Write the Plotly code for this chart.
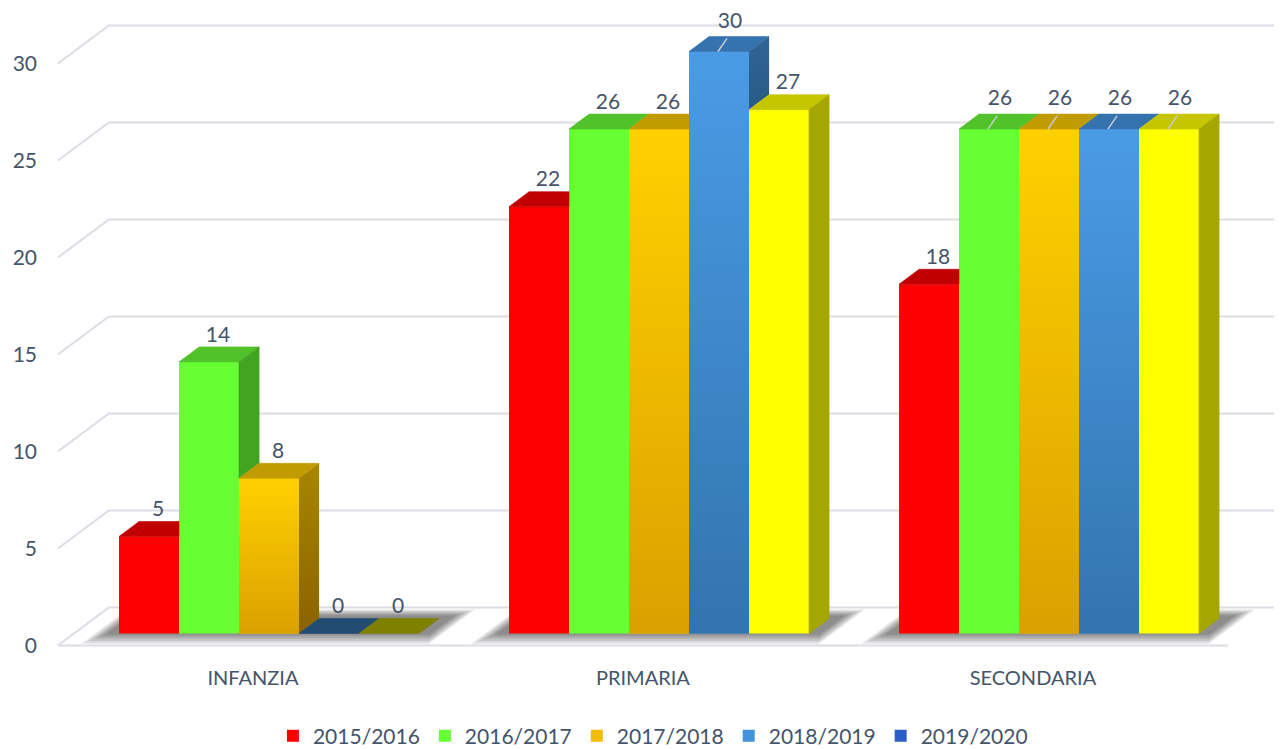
import plotly.graph_objects as go

# ---------------- data ----------------
CATEGORIES = ["INFANZIA", "PRIMARIA", "SECONDARIA"]
SERIES = ["2015/2016", "2016/2017", "2017/2018", "2018/2019", "2019/2020"]
V_2015_2016 = [5, 22, 18]
V_2016_2017 = [14, 26, 26]
V_2017_2018 = [8, 26, 26]
V_2018_2019 = [0, 30, 26]
V_2019_2020 = [0, 27, 26]
Y_TICKS = [0, 5, 10, 15, 20, 25, 30]
VALUES = [V_2015_2016, V_2016_2017, V_2017_2018, V_2018_2019, V_2019_2020]

# ---------------- style ----------------
STYLE = [
    dict(front="#FF0000", top="#C00000", side="#B00000", flat="#A00000", legend="#FF0000"),
    dict(front="#66FF33", top="#52C22A", side="#43A322", flat="#3D8F1F", legend="#66FF33"),
    dict(front=("#FFD000", "#DBA000"), top="#C19C00", side=("#A88600", "#8A6200"),
         flat="#7F6000", legend="#F2BC00"),
    dict(front=("#4A9BE6", "#3374AE"), top="#3673AE", side=("#2F6596", "#2A5A86"),
         flat="#234C72", legend="#4392DC"),
    dict(front="#FFFF00", top="#C6C600", side="#A6A600", flat="#808000", legend="#2B5EC6"),
]
TEXT_COLOR = "#44546A"
GRID_COLOR = "#DADDE4"
FONT = "Lato"
LEADER = {(1, 3), (2, 1), (2, 2), (2, 3), (2, 4)}

# ---------------- oblique projection helpers ----------------
PXX = 390.0    # pixels per category unit
PXY = 19.4     # pixels per value unit
SLANT = 1.34   # horizontal shift per vertical pixel of depth
D_FRONT, D_BAR, D_BACK = -12.0, 15.0, 26.0
N = len(SERIES)
BAR_W = 60.0 / PXX


def pt(x, v, d=0.0):
    return (x + SLANT * d / PXX, v + d / PXY)


def px(n):
    return n / PXX


def path(points):
    return "M " + " L ".join(f"{x:.5f},{y:.5f}" for x, y in points) + " Z"


fig = go.Figure()
shapes = []

# walls / floor lines
for v in Y_TICKS:
    a = pt(-0.5, v, D_FRONT)
    b = pt(-0.5, v, D_BACK)
    c = pt(2.5, v, D_BACK)
    shapes.append(dict(type="path", path=f"M {a[0]},{a[1]} L {b[0]},{b[1]} L {c[0]},{c[1]}",
                       xref="x", yref="y", layer="below",
                       line=dict(color=GRID_COLOR, width=2)))
a = pt(-0.5, 0, D_FRONT)
b = pt(2.5, 0, D_FRONT)
shapes.append(dict(type="line", x0=a[0], y0=a[1], x1=b[0], y1=b[1], xref="x", yref="y",
                   layer="below", line=dict(color=GRID_COLOR, width=2)))

# soft shadows on the floor under each group
for i in range(len(CATEGORIES)):
    x0g = i - N / 2 * BAR_W
    x1g = i + N / 2 * BAR_W
    for e in [12, 10, 8, 6, 4, 2, 0]:
        poly = [pt(x0g - px(12 + e), 0, -1 - e * 0.8), pt(x1g + px(12 + e), 0, -1 - e * 0.8),
                pt(x1g + px(12 + e), 0, 18 + e * 0.5), pt(x0g - px(12 + e), 0, 18 + e * 0.5)]
        shapes.append(dict(type="path", path=path(poly), xref="x", yref="y", layer="below",
                           fillcolor="rgba(0,0,0,0.08)", line=dict(width=0)))

# front faces as real bars
for k, name in enumerate(SERIES):
    st = STYLE[k]
    col = st["front"] if isinstance(st["front"], str) else st["legend"]
    fig.add_trace(go.Bar(
        x=list(range(len(CATEGORIES))), y=VALUES[k], name=name,
        width=BAR_W, offset=(k - N / 2) * BAR_W,
        marker=dict(color=col, line=dict(width=0)),
        showlegend=(k < N - 1),
        hovertemplate=name + ": %{y}<extra></extra>",
    ))


def face(points, fill, vlo=None, vhi=None):
    xs = [p[0] for p in points] + [points[0][0]]
    ys = [p[1] for p in points] + [points[0][1]]
    if isinstance(fill, str):
        fig.add_trace(go.Scatter(x=xs, y=ys, mode="lines", fill="toself", fillcolor=fill,
                                 line=dict(color=fill, width=0.6), hoverinfo="skip",
                                 showlegend=False))
    else:
        fig.add_trace(go.Scatter(x=xs, y=ys, mode="lines", fill="toself",
                                 line=dict(width=0), hoverinfo="skip", showlegend=False,
                                 fillgradient=dict(type="vertical",
                                                   colorscale=[[0, fill[1]], [1, fill[0]]],
                                                   start=vlo, stop=vhi)))


tv = D_BAR / PXY
for i in range(len(CATEGORIES)):
    for k in range(N):
        st = STYLE[k]
        v = VALUES[k][i]
        x0 = i + (k - N / 2) * BAR_W
        x1 = x0 + BAR_W
        vn = VALUES[k + 1][i] if k + 1 < N else None
        # gradient front overlay
        if not isinstance(st["front"], str) and v > 0:
            face([(x0, 0), (x1, 0), (x1, v), (x0, v)], st["front"], 0, v)
        # top face
        A, B = pt(x0, v), pt(x1, v)
        C, D = pt(x1, v, D_BAR), pt(x0, v, D_BAR)
        top_col = st["top"] if v > 0 else st["flat"]
        if vn is None or vn <= v:
            face([A, B, C, D], top_col)
        elif vn >= v + tv:
            face([A, B, (x1, v + tv), D], top_col)
        else:
            xc = x1 + (C[0] - x1) * (vn - v) / tv
            face([A, B, (x1, vn), (xc, vn), C, D], top_col)
        # side face
        if v > 0:
            lo = 0 if vn is None else vn
            if lo < v:
                P1, P2 = (x1, lo), (x1, v)
                P3, P4 = pt(x1, v, D_BAR), pt(x1, lo, D_BAR)
                if isinstance(st["side"], str):
                    face([P1, P2, P3, P4], st["side"])
                else:
                    face([P1, P2, P3, P4], st["side"], lo, v + tv)

# data labels and leader lines
lx, ly, lt = [], [], []
for i in range(len(CATEGORIES)):
    for k in range(N):
        v = VALUES[k][i]
        xc = i + (k - N / 2 + 0.5) * BAR_W
        if (i, k) in LEADER:
            lab = (xc + px(11), v + 1.5)
            fig.add_trace(go.Scatter(x=[xc - px(1), xc + px(8)], y=[v, v + 0.68], mode="lines",
                                     line=dict(color="#C8CCD4", width=1.5),
                                     hoverinfo="skip", showlegend=False))
        else:
            lab = (xc + px(9), v + 1.32)
        lx.append(lab[0]); ly.append(lab[1]); lt.append(str(v))
fig.add_trace(go.Scatter(x=lx, y=ly, text=lt, mode="text", textposition="middle center",
                         textfont=dict(family=FONT, size=21, color=TEXT_COLOR),
                         hoverinfo="skip", showlegend=False, cliponaxis=False))

# legend entry for the last series (legend colour differs from its bars)
fig.add_trace(go.Bar(x=[None], y=[None], name=SERIES[-1],
                     marker=dict(color=STYLE[-1]["legend"], line=dict(width=0)),
                     showlegend=True, width=BAR_W, offset=0))

# ---------------- layout ----------------
# page body has an 8px margin: figure pixel = window pixel - 8
L = 32
W, H = 1274, 749
X0_PX, BASE_PX, PLOT_BOTTOM = 261.0, 625.5, 652.0
xmin = (L - X0_PX) / PXX
xmax = xmin + (W - L) / PXX
vmax = BASE_PX / PXY
vmin = vmax - PLOT_BOTTOM / PXY
fo = pt(0, 0, D_FRONT)

fig.update_layout(
    width=W, height=H,
    margin=dict(l=L, r=0, t=0, b=0),
    paper_bgcolor="white", plot_bgcolor="white",
    barmode="overlay",
    font=dict(family=FONT, color=TEXT_COLOR),
    shapes=shapes,
    xaxis=dict(range=[xmin, xmax], showgrid=False, zeroline=False, showline=False,
               automargin=False,
               tickmode="array", tickvals=[i + fo[0] for i in range(len(CATEGORIES))],
               ticktext=CATEGORIES, ticks="", ticklabelstandoff=4,
               tickfont=dict(family=FONT, size=20, color=TEXT_COLOR), fixedrange=True),
    yaxis=dict(range=[vmin, vmax], domain=[1 - PLOT_BOTTOM / H, 1],
               showgrid=False, zeroline=False, showline=False, automargin=False,
               tickmode="array", tickvals=[v + fo[1] for v in Y_TICKS],
               ticktext=[str(v) for v in Y_TICKS], ticks="", ticklabelstandoff=2,
               tickfont=dict(family=FONT, size=21, color=TEXT_COLOR), fixedrange=True),
    legend=dict(orientation="h", x=0.4935, xanchor="center", y=(H - 728) / H,
                yanchor="middle",
                font=dict(family=FONT, size=21, color=TEXT_COLOR),
                bgcolor="rgba(0,0,0,0)"),
    showlegend=True,
)

fig.write_html("out.html")
